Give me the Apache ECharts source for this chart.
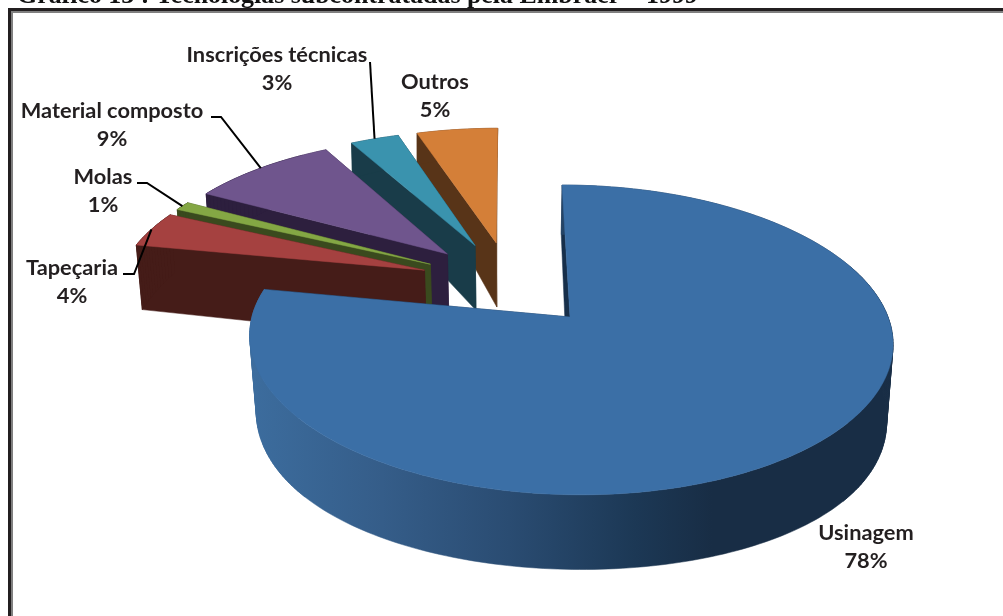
<!DOCTYPE html>
<html>
<head>
<meta charset="utf-8">
<style>html,body{margin:0;padding:0;background:#fff}#chart{width:1003px;height:616px}</style>
<script src="https://cdn.jsdelivr.net/npm/echarts@6/dist/echarts.min.js"></script>
</head>
<body>
<div id="chart"></div>
<script>
// Clockwise from twelve o'clock.
const categories = ['Usinagem', 'Tapeçaria', 'Molas', 'Material composto', 'Inscrições técnicas', 'Outros'];
const percents = [78, 4, 1, 9, 3, 5];
const topColors = ['#3b6fa6', '#a54140', '#84a744', '#6f558d', '#3a93ae', '#d47f38'];
const wallColors = ['#172f4a', '#451c18', '#3a4a1e', '#2d1f3e', '#193c49', '#583418'];
const chartTitle = 'Gráfico 13 : Tecnologias subcontratadas pela Embraer – 1999';

// Slices are painted from the far side of the disc to the near side.
const paintOrder = [5, 4, 3, 2, 1, 0];

// Label placement in pixels: text centre, then the leader's start and elbow.
const labelCentres = [[866, 547], [72, 282], [103, 191], [112, 125], [277, 69], [435, 96]];
const leaderStarts = [null, [123, 274], [137, 183], [211, 117], [370, 62], null];
const leaderElbows = [null, [134, 274], [147, 183], [221, 117], [370, 62], null];

// Perspective camera for the upper and lower faces of the disc.
const upperFace = { ax: 570, ay: 317, bx: 318, by: 151.5, skew: -9.1, py: 0.148, px: 0.148 };
const lowerFace = { ax: 570, ay: 392.6, bx: 312, by: 167, skew: -10, py: 0.056, px: 0.14 };
const explodeX = 0.296;
const explodeY = 0.3;

function project(face, x, y) {
  return [
    face.ax + (face.bx * x + face.skew * y) / (1 + face.px * y),
    face.ay - face.by * y / (1 + face.py * y)
  ];
}

const total = percents.reduce((a, b) => a + b, 0);
const angleSpans = [];
let running = 0;
percents.forEach(v => {
  const from = running / total * 2 * Math.PI;
  running += v;
  angleSpans.push([from, running / total * 2 * Math.PI]);
});

// Every slice moves out along its mid angle; the largest slice keeps its tip at the origin.
const midAngle = i => (angleSpans[i][0] + angleSpans[i][1]) / 2;
const discCentre = [-explodeX * Math.sin(midAngle(0)), -explodeY * Math.cos(midAngle(0))];
const sliceTip = i => [
  discCentre[0] + explodeX * Math.sin(midAngle(i)),
  discCentre[1] + explodeY * Math.cos(midAngle(i))
];
const rimPoint = (i, a) => {
  const t = sliceTip(i);
  return [t[0] + Math.sin(a), t[1] + Math.cos(a)];
};

function arcPoints(i, face) {
  const [a0, a1] = angleSpans[i];
  const steps = Math.max(4, Math.ceil((a1 - a0) / 0.02));
  const pts = [];
  for (let k = 0; k <= steps; k++) {
    const p = rimPoint(i, a0 + (a1 - a0) * k / steps);
    pts.push(project(face, p[0], p[1]));
  }
  return pts;
}

const largestWallFill = {
  type: 'linear', x: 255, y: 0, x2: 890, y2: 0, global: true,
  colorStops: [
    { offset: 0, color: '#3c6c9d' },
    { offset: 0.2, color: '#355d89' },
    { offset: 0.4, color: '#2a4c72' },
    { offset: 0.6, color: '#1c3855' },
    { offset: 0.72, color: '#182d45' },
    { offset: 1, color: '#182d45' }
  ]
};

function renderSlice(params, api) {
  const i = api.value(1);
  const tip = sliceTip(i);
  const upperArc = arcPoints(i, upperFace);
  const lowerArc = arcPoints(i, lowerFace);
  const upperTip = project(upperFace, tip[0], tip[1]);
  const lowerTip = project(lowerFace, tip[0], tip[1]);
  const wall = wallColors[i];
  if (i === 0) lowerTip[0] -= 2;

  const poly = (points, fill) => ({
    type: 'polygon', shape: { points }, style: { fill, stroke: fill, lineWidth: 0.5 }
  });
  const n = upperArc.length - 1;
  const curvedFill = i === 0 ? largestWallFill : wall;
  const children = [
    // Cut faces at both ends of the slice.
    poly([upperArc[n], upperTip, lowerTip, lowerArc[n]], wall),
    poly([upperArc[0], upperTip, lowerTip, lowerArc[0]], wall),
    // Curved outer wall as one ring.
    poly(upperArc.concat(lowerArc.slice().reverse()), curvedFill)
  ];
  // Side edges of the wall, where the ring alone would leave a notch at the silhouette.
  for (let k = 0; k < n; k++) {
    const inSideBand = Math.abs(lowerArc[k][1] - upperArc[k][1]) > 0 &&
      (upperArc[k][0] < 300 || upperArc[k][0] > 850);
    if (inSideBand) {
      children.push(poly([upperArc[k], upperArc[k + 1], lowerArc[k + 1], lowerArc[k]], curvedFill));
    }
  }
  // Upper face.
  children.push(poly([upperTip].concat(upperArc), topColors[i]));
  return { type: 'group', children };
}

function renderLabel(params, api) {
  const i = api.value(1);
  const children = [];
  if (leaderStarts[i]) {
    const mid = midAngle(i);
    const r = rimPoint(i, mid);
    children.push({
      type: 'polyline',
      shape: { points: [leaderStarts[i], leaderElbows[i], project(upperFace, r[0], r[1])] },
      style: { stroke: '#000', lineWidth: 2, fill: null }
    });
  }
  children.push({
    type: 'text',
    style: {
      x: labelCentres[i][0], y: labelCentres[i][1],
      text: categories[i] + '\n' + api.value(0) + '%',
      font: 'bold 21.8px Lato', lineHeight: 28.5,
      fill: '#231f20', align: 'center', verticalAlign: 'middle'
    }
  });
  return { type: 'group', children };
}

const sliceRows = paintOrder.map(i => [percents[i], i]);

const chart = echarts.init(document.getElementById('chart'), null, { renderer: 'canvas' });
chart.setOption({
  animation: false,
  backgroundColor: '#fff',
  title: {
    text: chartTitle, left: 17, top: -17,
    textStyle: { fontFamily: 'Liberation Serif', fontWeight: 'bold', fontSize: 25.9, color: '#111' },
    padding: 0
  },
  graphic: [
    { type: 'rect', shape: { x: 9.5, y: 9.5, width: 1100, height: 800 }, style: { fill: null, stroke: '#231f20', lineWidth: 3 }, silent: true },
    { type: 'rect', shape: { x: 12, y: 12, width: 1100, height: 800 }, style: { fill: null, stroke: '#808080', lineWidth: 2 }, silent: true }
  ],
  series: [
    { type: 'custom', coordinateSystem: 'none', name: 'Fatias', data: sliceRows, renderItem: renderSlice, silent: true, z: 2 },
    { type: 'custom', coordinateSystem: 'none', name: 'Rótulos', data: sliceRows, renderItem: renderLabel, silent: true, z: 3 }
  ]
});
</script>
</body>
</html>
